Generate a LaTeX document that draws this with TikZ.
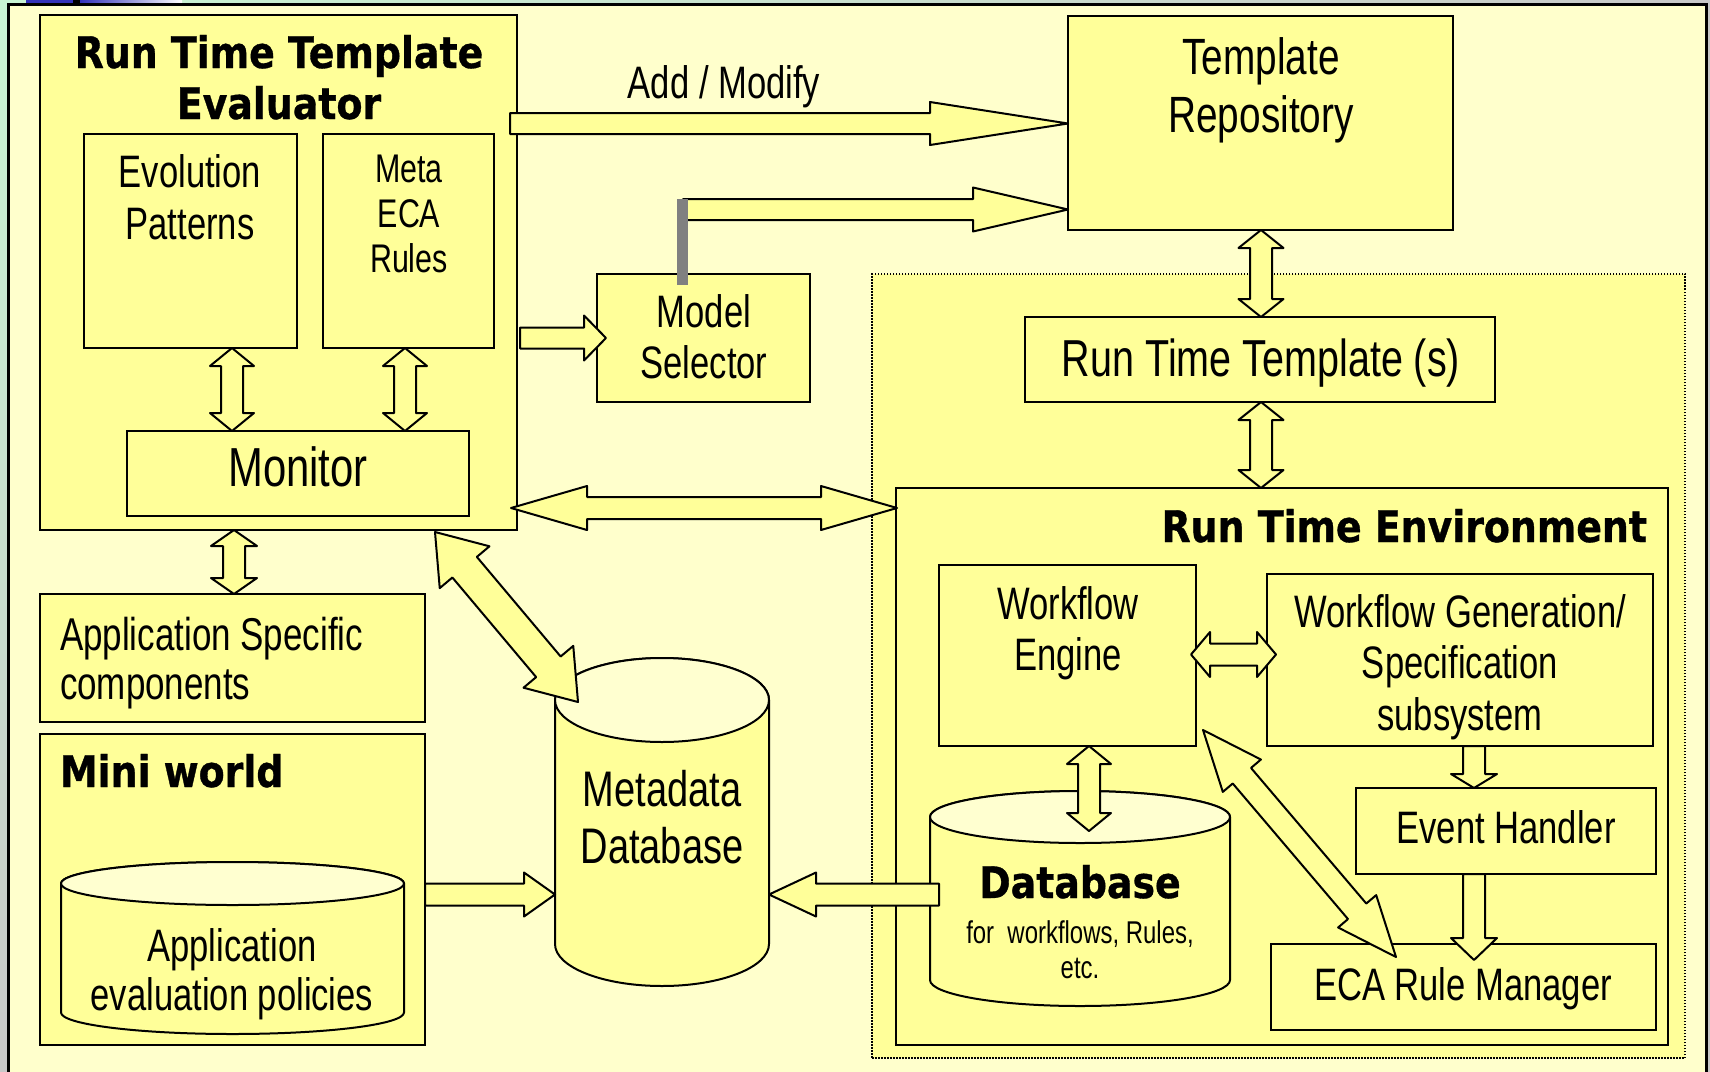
\documentclass[tikz,border=0pt]{standalone}
\usepackage{fontspec}
\setmainfont{Liberation Sans}
\newfontfamily\nf{Liberation Sans}[FakeStretch=0.76]
\newfontfamily\bfnt{DejaVu Sans}[FakeStretch=0.87,BoldFeatures={FakeBold=0.8}]
\usetikzlibrary{calc,shadings}
\definecolor{panel}{RGB}{255,255,204}
\definecolor{boxy}{RGB}{255,255,153}
\definecolor{cyltop}{RGB}{255,255,208}
\definecolor{bggreen}{RGB}{200,245,212}
\definecolor{bggray}{RGB}{200,200,200}
\definecolor{topblue}{RGB}{51,51,187}
\definecolor{bargray}{RGB}{128,128,128}
% single block arrow: from #1 to #2 (tip), half shaft #3, half head #4, head length #5
\newcommand\blkS[5]{%
  \coordinate (bq) at ($(#2)!#5!(#1)$);
  \filldraw[arr] ($(#1)!#3!90:(#2)$) -- ($(bq)!#3!90:(#2)$) -- ($(bq)!#4!90:(#2)$) -- (#2)
    -- ($(bq)!#4!-90:(#2)$) -- ($(bq)!#3!-90:(#2)$) -- ($(#1)!#3!-90:(#2)$) -- cycle;}
% double block arrow
\newcommand\blkD[5]{%
  \coordinate (bq) at ($(#2)!#5!(#1)$);
  \coordinate (bp) at ($(#1)!#5!(#2)$);
  \filldraw[arr] (#1) -- ($(bp)!#4!90:(#2)$) -- ($(bp)!#3!90:(#2)$) -- ($(bq)!#3!90:(#2)$)
    -- ($(bq)!#4!90:(#2)$) -- (#2) -- ($(bq)!#4!-90:(#2)$) -- ($(bq)!#3!-90:(#2)$)
    -- ($(bp)!#3!-90:(#2)$) -- ($(bp)!#4!-90:(#2)$) -- cycle;}
% cylinder: #1 left x, #2 right x, #3 top ellipse centre y, #4 bottom ellipse centre y, #5 rx, #6 ry
\newcommand\cylshape[6]{%
  \filldraw[cylst] (#1,#3) -- (#1,#4) arc[start angle=180,end angle=360,x radius=#5pt,y radius=#6pt]
    -- (#2,#3) arc[start angle=0,end angle=180,x radius=#5pt,y radius=#6pt] -- cycle;
  \filldraw[cylst,fill=cyltop] (#1,#3) arc[start angle=180,end angle=-180,x radius=#5pt,y radius=#6pt];}
\begin{document}
\begin{tikzpicture}[x=1pt,y=-1pt,
  boxst/.style={draw=black,line width=2pt,fill=boxy,inner sep=0pt,outer sep=0pt,anchor=north west},
  ghost/.style={inner sep=0pt,outer sep=0pt,anchor=north west},
  arr/.style={draw=black,line width=2pt,fill=boxy,line join=round},
  cylst/.style={draw=black,line width=2pt,fill=boxy},
  tx/.style={inner sep=0pt,outer sep=0pt,anchor=base},
  f45/.style={font=\nf\fontsize{45.5pt}{50pt}\selectfont},
  f40/.style={font=\nf\fontsize{40pt}{44pt}\selectfont},
  f46/.style={font=\nf\fontsize{46pt}{50pt}\selectfont},
  f50/.style={font=\nf\fontsize{50pt}{55pt}\selectfont},
  f51/.style={font=\nf\fontsize{51pt}{55pt}\selectfont},
  f52/.style={font=\nf\fontsize{52pt}{56pt}\selectfont},
  f55/.style={font=\nf\fontsize{55pt}{60pt}\selectfont},
  f31/.style={font=\nf\fontsize{31.5pt}{35pt}\selectfont},
  bt/.style={font=\bfnt\bfseries\fontsize{43.5pt}{48pt}\selectfont},
]
\useasboundingbox (0,0) rectangle (1710,1071);
% background
\shade[upper left=bggreen,upper right=bggray,lower left=bggray,lower right=bggray] (0,0) rectangle (1710,1071);
\fill[topblue] (26,0) rectangle (73,4);
\fill[black] (73,0) rectangle (80,4);
\shade[left color=topblue,right color=white] (80,0) rectangle (182,4);
\node[ghost,draw=black,line width=3pt,fill=panel,minimum width=1698pt,minimum height=1090pt] (panel) at (8,4) {};
% dotted zone
\node[ghost,draw=black,line width=1.5pt,dash pattern=on 1.5pt off 1.5pt,fill=boxy,minimum width=813pt,minimum height=784pt] (zone) at (872,274) {};
% boxes
\node[boxst,minimum width=477pt,minimum height=515pt] (rtte) at (40,15) {};
\node[boxst,minimum width=213pt,minimum height=214pt] (evo) at (84,134) {};
\node[boxst,minimum width=171pt,minimum height=214pt] (meta) at (323,134) {};
\node[boxst,minimum width=342pt,minimum height=85pt] (mon) at (127,431) {};
\node[boxst,minimum width=385pt,minimum height=128pt] (appspec) at (40,594) {};
\node[boxst,minimum width=385pt,minimum height=311pt] (mini) at (40,734) {};
\node[boxst,minimum width=213pt,minimum height=128pt] (msel) at (597,274) {};
\node[boxst,minimum width=385pt,minimum height=214pt] (trep) at (1068,16) {};
\node[boxst,minimum width=470pt,minimum height=85pt] (rtts) at (1025,317) {};
\node[boxst,minimum width=772pt,minimum height=557pt] (rte) at (896,488) {};
\node[boxst,minimum width=257pt,minimum height=181pt] (we) at (939,565) {};
\node[boxst,minimum width=386pt,minimum height=172pt] (wg) at (1267,574) {};
\node[boxst,minimum width=300pt,minimum height=86pt] (eh) at (1356,788) {};
\node[boxst,minimum width=385pt,minimum height=86pt] (eca) at (1271,944) {};
% cylinders
\node[ghost,minimum width=343pt,minimum height=172pt] (pol) at (61,862) {};
\cylshape{61}{404}{883.5}{1012.5}{171.5}{21.5}
\node[ghost,minimum width=214pt,minimum height=328pt] (mdb) at (555,658) {};
\cylshape{555}{769}{700}{944}{107}{42}
\node[ghost,minimum width=300pt,minimum height=215pt] (db) at (930,791) {};
\cylshape{930}{1230}{817}{980}{150}{26}
% arrows
\coordinate (a1) at (232,0 |- evo.south); \coordinate (b1) at (232,0 |- mon.north);
\blkD{a1}{b1}{11pt}{22pt}{18pt}
\coordinate (a2) at (405,0 |- meta.south); \coordinate (b2) at (405,0 |- mon.north);
\blkD{a2}{b2}{11pt}{22pt}{18pt}
\coordinate (a3) at (234,0 |- rtte.south); \coordinate (b3) at (234,0 |- appspec.north);
\blkD{a3}{b3}{11pt}{23pt}{16pt}
\coordinate (a4) at (520,338); \coordinate (b4) at (606,338);
\blkS{a4}{b4}{10.5pt}{22.5pt}{22pt}
\coordinate (a5) at (510,123.5); \coordinate (b5) at (trep.west |- 0,123.5);
\blkS{a5}{b5}{10.5pt}{21.5pt}{138pt}
\coordinate (a6) at (683,209.5); \coordinate (b6) at (trep.west |- 0,209.5);
\blkS{a6}{b6}{10.5pt}{22pt}{95pt}
\coordinate (a7) at (1261,0 |- trep.south); \coordinate (b7) at (1261,0 |- rtts.north);
\blkD{a7}{b7}{11pt}{22.5pt}{18pt}
\coordinate (a8) at (1261,0 |- rtts.south); \coordinate (b8) at (1261,0 |- rte.north);
\blkD{a8}{b8}{11pt}{22.5pt}{18pt}
\coordinate (a9) at (511,508); \coordinate (b9) at (897,508);
\blkD{a9}{b9}{11pt}{22pt}{76pt}
\coordinate (a10) at (435,532); \coordinate (b10) at (578,702);
\blkD{a10}{b10}{16pt}{32.5pt}{46pt}
\coordinate (a11) at (mini.east |- 0,894.5); \coordinate (b11) at (mdb.west |- 0,894.5);
\blkS{a11}{b11}{11pt}{22pt}{31pt}
\coordinate (a12) at (939,894.5); \coordinate (b12) at (mdb.east |- 0,894.5);
\blkS{a12}{b12}{11pt}{22pt}{47pt}
\coordinate (a13) at (1191,654.5); \coordinate (b13) at (1276,654.5);
\blkD{a13}{b13}{11pt}{22.5pt}{19pt}
\coordinate (a14) at (1089,0 |- we.south); \coordinate (b14) at (1089,831);
\blkD{a14}{b14}{11pt}{22pt}{18pt}
\coordinate (a15) at (1474,0 |- wg.south); \coordinate (b15) at (1474,0 |- eh.north);
\blkS{a15}{b15}{11pt}{23pt}{14pt}
\coordinate (a16) at (1474,0 |- eh.south); \coordinate (b16) at (1474,960);
\blkS{a16}{b16}{11pt}{23pt}{22pt}
\coordinate (a17) at (1203,730); \coordinate (b17) at (1396,957);
\blkD{a17}{b17}{12pt}{25pt}{60pt}
% gray bar on model selector
\fill[bargray] (677,199) rectangle (688,285);
% texts
\node[tx,bt] (t1) at (279,68) {Run Time Template};
\node[tx,bt] (t2) at (279,119) {Evaluator};
\node[tx,f45] (t3) at (190,187) {Evolution};
\node[tx,f45] (t4) at (190,239) {Patterns};
\node[tx,f40] (t5) at (409,182) {Meta};
\node[tx,f40] (t6) at (409,227) {ECA};
\node[tx,f40] (t7) at (409,272) {Rules};
\node[tx,f55] (t8) at (298,486) {Monitor};
\node[tx,f45] (t9) at (724,98) {Add / Modify};
\node[tx,f45] (t10) at (704,327) {Model};
\node[tx,f45] (t11) at (704,378) {Selector};
\node[tx,f51] (t12) at (1261,74) {Template};
\node[tx,f51] (t13) at (1261,132) {Repository};
\node[tx,f52] (t14) at (1261,376) {Run Time Template (s)};
\node[tx,bt,anchor=base east] (t15) at (1647,542) {Run Time Environment};
\node[tx,f45] (t16) at (1068,619) {Workflow};
\node[tx,f45] (t17) at (1068,670) {Engine};
\node[tx,f45] (t18) at (1460,627) {Workflow Generation/};
\node[tx,f45] (t19) at (1460,678) {Specification};
\node[tx,f45] (t20) at (1460,730) {subsystem};
\node[tx,f45] (t21) at (1506,843) {Event Handler};
\node[tx,f45] (t22) at (1463,1000) {ECA Rule Manager};
\node[tx,bt] (t23) at (1080,898) {Database};
\node[tx,f31] (t24) at (1080,943) {for \ workflows, Rules,};
\node[tx,f31] (t25) at (1080,978) {etc.};
\node[tx,f46,anchor=base west] (t26) at (60,650) {Application Specific};
\node[tx,f46,anchor=base west] (t27) at (60,699) {components};
\node[tx,bt,anchor=base west] (t28) at (60,787) {Mini world};
\node[tx,f45] (t29) at (232,961) {Application};
\node[tx,f45] (t30) at (232,1010) {evaluation policies};
\node[tx,f50] (t31) at (662,806) {Metadata};
\node[tx,f50] (t32) at (662,863) {Database};
\end{tikzpicture}
\end{document}
